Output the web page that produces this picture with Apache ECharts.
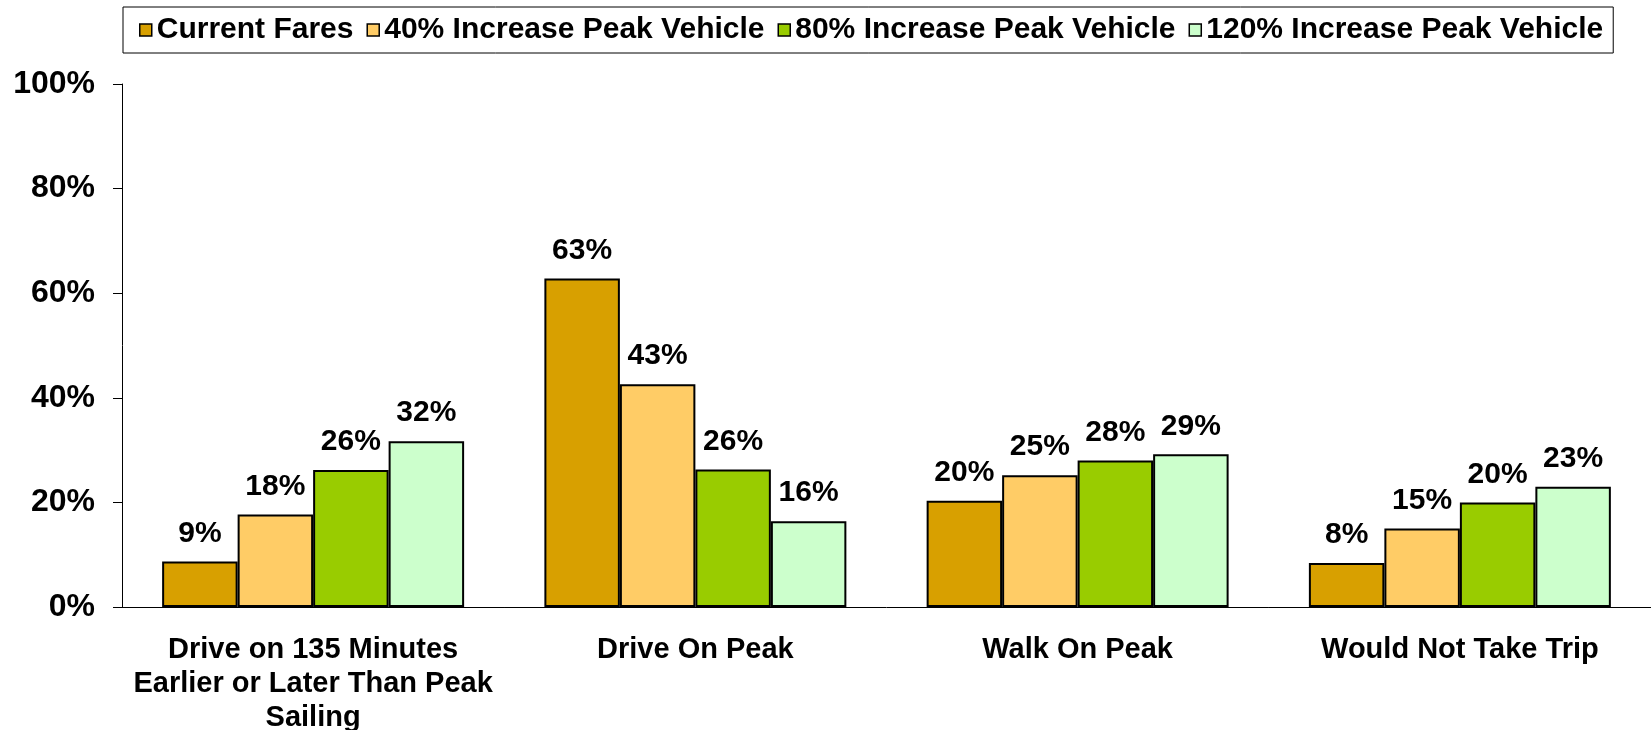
<!DOCTYPE html>
<html>
<head>
<meta charset="utf-8">
<script src="https://cdn.jsdelivr.net/npm/echarts@6/dist/echarts.min.js"></script>
<style>
  html, body { margin: 0; padding: 0; background: #fff; }
  #chart { width: 1651px; height: 730px; }
</style>
</head>
<body>
<div id="chart"></div>
<script>
const categories = [
  'Drive on 135 Minutes\nEarlier or Later Than Peak\nSailing',
  'Drive On Peak',
  'Walk On Peak',
  'Would Not Take Trip'
]
const seriesNames = ['Current Fares', '40% Increase Peak Vehicle', '80% Increase Peak Vehicle', '120% Increase Peak Vehicle']
const currentFares = [8.7, 62.8, 20.3, 8.4]
const increase40 = [17.7, 42.6, 25.2, 15.0]
const increase80 = [26.2, 26.3, 28.0, 20.0]
const increase120 = [31.7, 16.4, 29.2, 23.0]
const yTicks = [0, 20, 40, 60, 80, 100]

const colors = ['#D8A000', '#FFCC66', '#99CC00', '#CCFFCC']
const font = 'Liberation Sans, Arial, sans-serif'
const values = [currentFares, increase40, increase80, increase120]

const chart = echarts.init(document.getElementById('chart'))

chart.setOption({
  animation: false,
  legend: {
    left: 123,
    top: 7,
    padding: [8, 10, 8, 16],
    icon: 'rect',
    itemWidth: 12,
    itemHeight: 12,
    itemGap: 13,
    borderColor: '#000',
    borderWidth: 1,
    itemStyle: { borderColor: '#000', borderWidth: 1.5 },
    textStyle: { fontFamily: font, fontWeight: 'bold', fontSize: 30, color: '#000' },
    data: seriesNames,
  },
  grid: { left: 122, right: 0, top: 84, bottom: 123, outerBoundsMode: 'none' },
  xAxis: {
    type: 'category',
    data: categories,
    axisLine: { lineStyle: { color: '#000', width: 1 } },
    axisTick: { length: 9, lineStyle: { color: '#000' } },
    axisLabel: {
      margin: 26,
      fontFamily: font, fontWeight: 'bold', fontSize: 29, lineHeight: 34, color: '#000',
      interval: 0,
    },
  },
  yAxis: {
    type: 'value',
    min: 0,
    max: 100,
    interval: 20,
    axisLine: { show: true, lineStyle: { color: '#000', width: 1 } },
    axisTick: { show: true, length: 9, lineStyle: { color: '#000' } },
    splitLine: { show: false },
    axisLabel: {
      margin: 27,
      fontFamily: font, fontWeight: 'bold', fontSize: 32, color: '#000',
      formatter: v => yTicks.includes(v) ? v + '%' : '',
    },
  },
  series: seriesNames.map((name, i) => ({
    name,
    type: 'bar',
    data: values[i],
    barGap: '0%',
    barCategoryGap: '21%',
    itemStyle: { color: colors[i], borderColor: '#000', borderWidth: 2 },
    label: {
      show: true,
      position: 'top',
      distance: 13,
      fontFamily: font, fontWeight: 'bold', fontSize: 30, color: '#000',
      formatter: p => Math.round(p.value) + '%',
    },
  })),
})
</script>
</body>
</html>
